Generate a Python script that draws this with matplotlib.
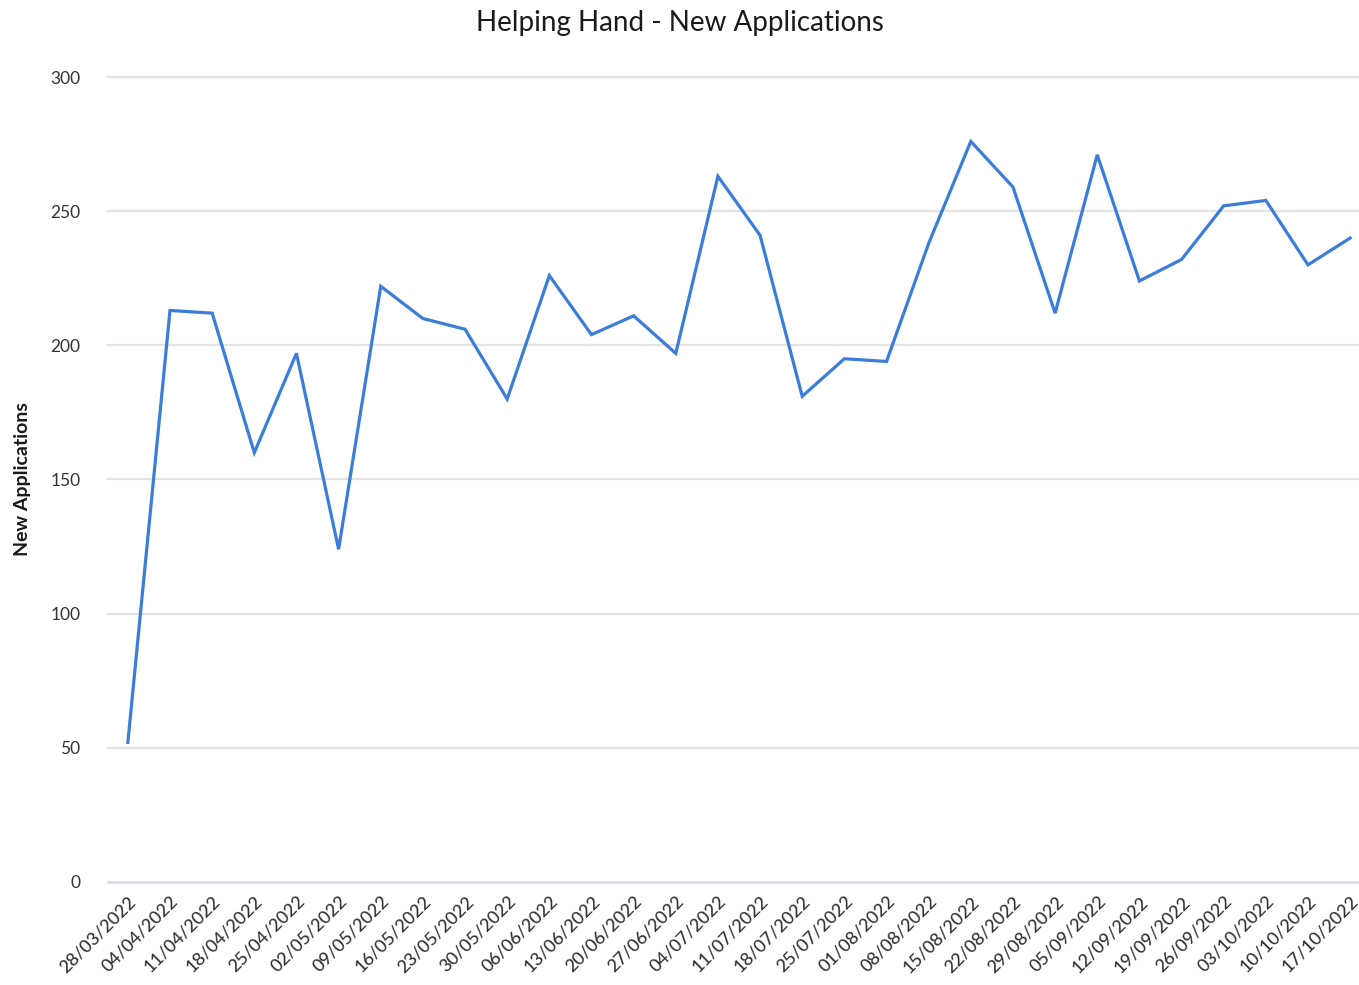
import numpy as np
import matplotlib as mpl
mpl.use('agg')
from matplotlib import pyplot as plt

plt.rcParams['font.family'] = ['Lato', 'DejaVu Sans']

weeks = ['28/03/2022', '04/04/2022', '11/04/2022', '18/04/2022', '25/04/2022',
         '02/05/2022', '09/05/2022', '16/05/2022', '23/05/2022', '30/05/2022',
         '06/06/2022', '13/06/2022', '20/06/2022', '27/06/2022', '04/07/2022',
         '11/07/2022', '18/07/2022', '25/07/2022', '01/08/2022', '08/08/2022',
         '15/08/2022', '22/08/2022', '29/08/2022', '05/09/2022', '12/09/2022',
         '19/09/2022', '26/09/2022', '03/10/2022', '10/10/2022', '17/10/2022']
applications = [52, 213, 212, 160, 197, 124, 222, 210, 206, 180,
                226, 204, 211, 197, 263, 241, 181, 195, 194, 238,
                276, 259, 212, 271, 224, 232, 252, 254, 230, 240]
y_ticks = [0, 50, 100, 150, 200, 250, 300]

fig = plt.figure(figsize=(13.59, 9.85), dpi=100)
ax = fig.add_axes([0.0795, 0.1046, 0.9205, 0.8172])

x = np.arange(len(weeks))
ax.plot(x, applications, color='#3b7dd8', linewidth=2.3, solid_joinstyle='miter')

ax.set_xlim(-0.47, len(weeks) - 1 + 0.21)
ax.set_ylim(0, 300)
ax.set_yticks(y_ticks)
ax.set_xticks(x)
ax.set_xticklabels(weeks, rotation=45, ha='right', rotation_mode='anchor',
                   fontsize=13, color='#333333', fontweight='medium')
ax.tick_params(axis='y', labelsize=12.5, labelcolor='#333333', length=0, pad=20)
ax.tick_params(axis='x', length=0, pad=8)

for v in y_ticks[1:]:
    ax.axhline(v, color='#e3e3e3', linewidth=1.6, zorder=0, clip_on=False)
ax.axhline(0, color='#d5d9e6', linewidth=1.8, zorder=0, clip_on=False)

for s in ax.spines.values():
    s.set_visible(False)

ax.set_ylabel('New Applications', fontsize=14, color='#1a1a1a', fontweight='bold', labelpad=14)
fig.suptitle('Helping Hand - New Applications', fontsize=20, color='#1a1a1a', y=0.99)

plt.savefig('out.png')
